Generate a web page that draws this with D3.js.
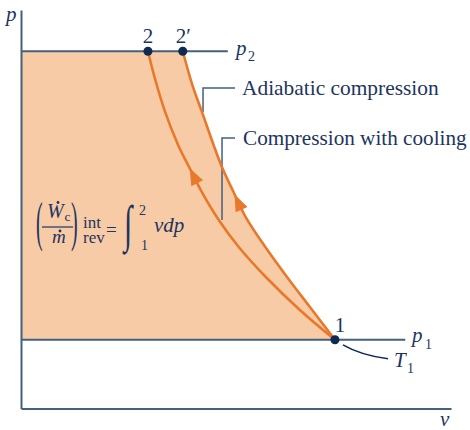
<!DOCTYPE html>
<html><head><meta charset="utf-8">
<script src="https://cdn.jsdelivr.net/npm/d3@7"></script>
<style>
html,body{margin:0;padding:0;background:#fff;}
svg{display:block;}
text{font-family:"Liberation Serif","Times New Roman",serif;fill:#1d3461;}
</style></head>
<body>
<svg id="chart" width="470" height="430"></svg>
<script>
// ---- data (v, p in arbitrary units) ----
const p1 = 1.0, p2 = 5.2;
const v1 = 4.6, v2 = 1.86, v2p = 2.37;
// Compression with cooling (2 -> 1)
const vInner = [1.86, 1.96, 2.11, 2.30, 2.47, 2.65, 2.90, 3.19, 3.59, 4.09, 4.60];
const pInner = [5.20, 4.81, 4.32, 3.84, 3.50, 3.15, 2.74, 2.35, 1.91, 1.43, 1.00];
// Adiabatic compression (2' -> 1)
const vOuter = [2.37, 2.51, 2.65, 2.82, 2.95, 3.10, 3.29, 3.58, 3.90, 4.23, 4.60];
const pOuter = [5.20, 4.71, 4.32, 3.84, 3.50, 3.18, 2.79, 2.35, 1.91, 1.48, 1.00];
const statePoints = [{name:"1", v:v1, p:p1}, {name:"2", v:v2, p:p2}, {name:"2′", v:v2p, p:p2}];
const arrowAtP = {inner: 3.50, outer: 3.12};
const isobarEnds = {p1: 5.63, p2: 3.03};

const svg = d3.select("#chart");
const x = d3.scaleLinear().domain([0, 6.3]).range([21, 451]);
const y = d3.scaleLinear().domain([0, 5.8]).range([408.5, 10]);

const ORANGE = "#e8782a", FILL = "#f8cba7", AX = "#44607f", DOT = "#0e2a52", TXT = "#1d3461";

const inner = vInner.map((v,i)=>[v,pInner[i]]);
const outer = vOuter.map((v,i)=>[v,pOuter[i]]);
const line = d3.line().x(d=>x(d[0])).y(d=>y(d[1])).curve(d3.curveCatmullRom.alpha(0.5));

// shaded area
const outerPath = line(outer);
svg.append("path")
  .attr("d", `M${x(0)},${y(p2)}L` + outerPath.slice(1) + `L${x(0)},${y(p1)}Z`)
  .attr("fill", FILL);

// axes
svg.append("g").attr("transform", `translate(0,${y(0)})`)
  .call(d3.axisBottom(x).tickValues([]).tickSizeOuter(0))
  .select(".domain").attr("stroke", AX).attr("stroke-width", 2);
svg.append("g").attr("transform", `translate(${x(0)},0)`)
  .call(d3.axisLeft(y).tickValues([]).tickSizeOuter(0))
  .select(".domain").attr("stroke", AX).attr("stroke-width", 2);

// isobars
svg.append("line").attr("x1", x(0)).attr("x2", x(isobarEnds.p2)).attr("y1", y(p2)).attr("y2", y(p2))
  .attr("stroke", AX).attr("stroke-width", 2);
svg.append("line").attr("x1", x(0)).attr("x2", x(isobarEnds.p1)).attr("y1", y(p1)).attr("y2", y(p1))
  .attr("stroke", AX).attr("stroke-width", 2);

// leader lines
const lead = d3.path();
lead.moveTo(x(3.136), y(4.664)); lead.lineTo(x(2.667), y(4.664)); lead.lineTo(x(2.667), y(4.315));
lead.moveTo(x(3.136), y(3.937)); lead.lineTo(x(2.945), y(3.937)); lead.lineTo(x(2.945), y(2.743));
svg.append("path").attr("d", lead.toString()).attr("fill", "none").attr("stroke", AX).attr("stroke-width", 1.5);

// curves
const curves = {inner, outer};
Object.entries(curves).forEach(([k, pts]) => {
  const path = svg.append("path").attr("d", line(pts)).attr("fill", "none")
    .attr("stroke", ORANGE).attr("stroke-width", 2.6);
  const node = path.node();
  const L = node.getTotalLength();
  const ty = y(arrowAtP[k]);
  let lo = 0, hi = L;
  for (let i = 0; i < 40; i++) { const m = (lo+hi)/2; if (node.getPointAtLength(m).y < ty) lo = m; else hi = m; }
  const tip = node.getPointAtLength(lo);
  const back = node.getPointAtLength(Math.min(L, lo + 4));
  let dx = tip.x - back.x, dy = tip.y - back.y; const n = Math.hypot(dx, dy); dx/=n; dy/=n;
  const len = 17, hw = 6.5;
  const bx = tip.x - dx*len, by = tip.y - dy*len;
  svg.append("path")
    .attr("d", `M${tip.x},${tip.y}L${bx - dy*hw},${by + dx*hw}L${bx + dy*hw},${by - dx*hw}Z`)
    .attr("fill", ORANGE);
});

// T1 leader
svg.append("path")
  .attr("d", `M${x(v1)+8},${y(p1)+5}Q${x(v1)+25},${y(p1)+15} ${x(v1)+53},${y(p1)+19}`)
  .attr("fill", "none").attr("stroke", DOT).attr("stroke-width", 1.5);

// state points
svg.selectAll("circle.st").data(statePoints).join("circle")
  .attr("cx", d=>x(d.v)).attr("cy", d=>y(d.p)).attr("r", 4.5).attr("fill", DOT);

// labels
const T = (txt, px, py, opts={}) => {
  const t = svg.append("text").attr("x", px).attr("y", py).attr("font-size", opts.size||20)
    .attr("text-anchor", opts.anchor||"start").text(txt);
  if (opts.italic) t.attr("font-style", "italic");
  if (opts.transform) t.attr("transform", opts.transform);
  return t;
};
T("2", x(v2), y(p2)-8, {anchor:"middle", size:21});
T("2′", x(v2p)-7, y(p2)-8, {size:21});
T("1", x(v1)+5, y(p1)-8, {anchor:"middle", size:21});
T("p", 6, 21, {italic:true, size:21});
T("v", 440, 426, {italic:true, size:21});
T("p", 236, 55, {italic:true, size:21}); T("2", 248, 61, {size:14});
T("p", 412, 342, {italic:true, size:21}); T("1", 425, 349, {size:14});
T("T", 394, 367, {italic:true, size:21}); T("1", 407, 373, {size:14});
T("Adiabatic compression", 242, 95, {size:21.4});
T("Compression with cooling", 243, 145, {size:21.2});

// formula
T("(", 0, 0, {size:20, transform:"translate(36,240) scale(1,2.76)"});
T("W", 47, 218, {size:20, italic:true});
svg.append("circle").attr("cx", 58).attr("cy", 202.5).attr("r", 1.4).attr("fill", TXT);
T("c", 64.5, 221, {size:13.5});
svg.append("line").attr("x1", 42).attr("x2", 73).attr("y1", 227).attr("y2", 227).attr("stroke", TXT).attr("stroke-width", 1.2);
T("m", 52, 243, {size:19, italic:true});
svg.append("circle").attr("cx", 60).attr("cy", 231).attr("r", 1.4).attr("fill", TXT);
T(")", 0, 0, {size:20, transform:"translate(71,240) scale(1,2.76)"});
T("int", 83, 228, {size:17});
T("rev", 83, 243, {size:17});
T("=", 106, 236, {size:19});
T("∫", 0, 0, {size:30, transform:"translate(124,241) scale(1,1.7)"});
T("2", 139, 215, {size:14});
T("1", 141, 250, {size:14});
T("vdp", 154, 232, {size:21, italic:true});
</script>
</body></html>
